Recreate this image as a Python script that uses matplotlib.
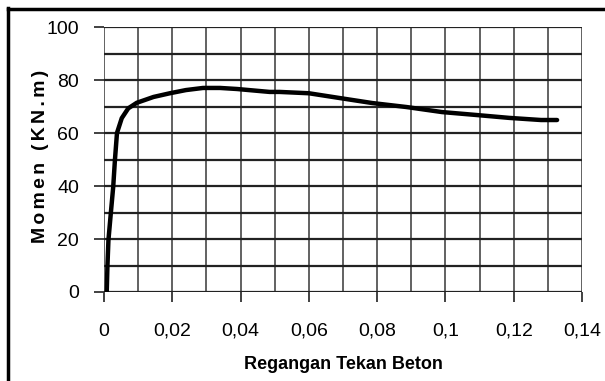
import matplotlib
matplotlib.use('Agg')
import matplotlib.pyplot as plt
import numpy as np
from matplotlib.lines import Line2D

plt.rcParams['font.family'] = ['Liberation Sans', 'DejaVu Sans']

# regangan tekan beton vs momen
strain = [0.0008, 0.001, 0.0013, 0.002, 0.0027, 0.0032, 0.0038, 0.0052, 0.0071,
          0.0096, 0.0145, 0.0193, 0.024, 0.029, 0.034, 0.039, 0.0485, 0.0514,
          0.060, 0.069, 0.0786, 0.0886, 0.099, 0.109, 0.1187, 0.128, 0.1327]
moment = [0.0, 9.6, 19.6, 29.8, 39.7, 49.8, 60.0, 65.6, 69.3,
          71.4, 73.6, 75.0, 76.2, 77.0, 77.0, 76.6, 75.5, 75.5,
          75.0, 73.2, 71.3, 69.8, 67.9, 66.8, 65.7, 64.9, 64.9]

x_ticks = [0, 0.02, 0.04, 0.06, 0.08, 0.1, 0.12, 0.14]
x_labels = ['0', '0,02', '0,04', '0,06', '0,08', '0,1', '0,12', '0,14']
y_ticks = [0, 20, 40, 60, 80, 100]


def spaced(s, gap='\u200a\u200a'):
    return gap.join(s)


fig = plt.figure(figsize=(6.05, 3.81), dpi=100)
ax = fig.add_axes([104/605, 1-292/381, (582-104)/605, (292-27)/381])

# grid every 0.01 / 10, drawn by hand so edges get lines too
for xv in np.arange(0, 0.1401, 0.01):
    ax.axvline(xv, color='#555555', lw=1.3, zorder=1)
for yv in np.arange(0, 100.1, 10):
    ax.axhline(yv, color='#222222', lw=1.6, zorder=1)

ax.plot(strain, moment, color='black', lw=3.2, solid_capstyle='round',
        solid_joinstyle='round', zorder=3)

ax.set_xlim(0, 0.14)
ax.set_ylim(0, 100)
for s in ax.spines.values():
    s.set_visible(False)

ax.set_xticks(x_ticks)
ax.set_xticklabels(x_labels)
ax.set_yticks(y_ticks)
ax.tick_params(axis='both', direction='out', length=7, width=1.3,
               color='#333333', labelsize=14)
ax.tick_params(axis='x', pad=15)
ax.tick_params(axis='y', pad=11)

ax.set_xlabel('Regangan Tekan Beton', fontsize=13, fontweight='bold',
              labelpad=12)
ax.set_ylabel(spaced('Momen (KN.m)'), fontsize=14, fontweight='bold')
ax.yaxis.set_label_coords(-55/478, 0.513)

# scanned frame: left and top borders only
fig.add_artist(Line2D([8/605, 8/605], [0, 1-8/381], color='black', lw=2.5,
                      transform=fig.transFigure))
fig.add_artist(Line2D([8/605, 1], [1-9/381, 1-9/381], color='black', lw=2.5,
                      transform=fig.transFigure))

fig.savefig('out.png', dpi=100)
